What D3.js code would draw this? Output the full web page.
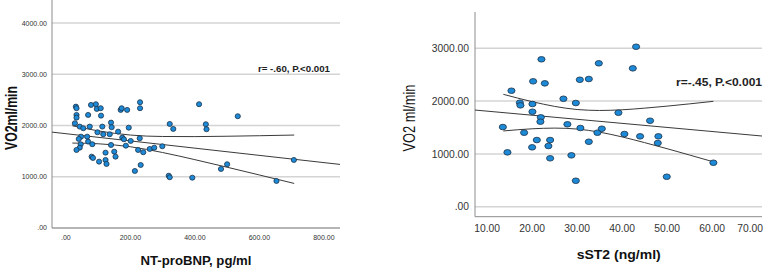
<!DOCTYPE html>
<html>
<head>
<meta charset="utf-8">
<script src="https://cdn.jsdelivr.net/npm/d3@7"></script>
<style>
html,body{margin:0;padding:0;background:#fff;}
svg{display:block;font-family:"Liberation Sans",Arial,sans-serif;}
</style>
</head>
<body>
<svg id="chart" width="764" height="268"></svg>
<script>
// ---------- Left panel data: NT-proBNP vs VO2 ----------
const ntX = [31,33,33,33,28,43,54,47,40,46,43,33,66,69,82,74,69,78,93,96,108,109,113,98,116,136,140,80,84,103,123,123,126,140,142,150,154,162,170,173,190,195,175,180,186,201,229,224,240,230,230,214,232,260,274,299,322,333,319,322,392,413,434,436,481,500,533,653,707];
const ntY = [2369,2338,2207,2154,2045,1979,1947,1783,1738,1635,1568,1523,1783,1686,1635,1979,2207,2402,2416,2324,2338,2193,1979,1869,1830,1830,1621,1393,1367,1295,1471,1328,1250,2057,1967,1490,1393,1881,2305,2338,2305,1959,1764,1732,1607,1699,1752,1523,1479,2455,2338,1113,1230,1543,1568,1596,2031,1934,1021,990,982,2416,2025,1928,1152,1244,2182,918,1328];
const ntFitX = [-43, 850];
const ntFitY = [1871, 1241];
const ntCiX = [20,100,200,300,400,500,600,708];
const ntCiUpper = [1996,1896,1814,1786,1784,1791,1801,1814];
const ntCiLower = [1658,1644,1586,1473,1334,1186,1035,870];
const ntXTicks = [0,200,400,600,800];
const ntXTickLabels = [".00","200.00","400.00","600.00","800.00"];
const ntYTicks = [0,1000,2000,3000,4000];
const ntYTickLabels = [".00","1000.00","2000.00","3000.00","4000.00"];
const ntXTitle = "NT-proBNP, pg/ml";
const ntYTitle = "VO2ml/min";
const ntNote = "r= -.60, P.<0.001";

// ---------- Right panel data: sST2 vs VO2 ----------
const stX = [22.07,34.82,20.22,22.82,30.6,32.6,15.4,17.27,17.4,20.07,20.07,21.93,21.84,26.96,29.71,39.18,13.49,18.22,27.84,30.73,34.51,35.49,32.6,21.04,24.0,20.0,23.62,14.51,24.0,28.73,29.71,43.11,42.38,46.22,40.51,44.0,48.07,47.93,60.29,49.93];
const stY = [2792,2716,2375,2337,2405,2419,2197,1970,1920,1945,1799,1693,1610,2045,1964,1780,1509,1402,1561,1491,1402,1477,1231,1263,1263,1125,1150,1030,917,973,492,3030,2621,1629,1377,1333,1333,1206,833,568];
const stFitX = [7.3, 71.1];
const stFitY = [1831, 1339];
const stCiX = [13.6,20,25,30,35,40,45,50,55,60.3];
const stCiUpper = [2129,1990,1900,1841,1823,1836,1867,1905,1948,1996];
const stCiLower = [1435,1476,1489,1471,1412,1322,1214,1099,979,850];
const stXTicks = [10,20,30,40,50,60,70];
const stXTickLabels = ["10.00","20.00","30.00","40.00","50.00","60.00","70.00"];
const stYTicks = [0,1000,2000,3000];
const stYTickLabels = [".00","1000.00","2000.00","3000.00"];
const stXTitle = "sST2 (ng/ml)";
const stYTitle = "VO2 ml/min";
const stNote = "r=-.45, P.<0.001";

const svg = d3.select("#chart");
const FILL = "#1d8ad8", STROKE = "#1b3148", GRID = "#d4d4d4", AXIS = "#8c8c8c", LINE = "#3a3a3a", TXT = "#333";

function panel(cfg) {
  const g = svg.append("g");
  const x = d3.scaleLinear().domain(cfg.xDomain).range(cfg.xRange);
  const y = d3.scaleLinear().domain(cfg.yDomain).range(cfg.yRange);
  const [x0, x1] = cfg.xRange;
  const [yb, yt] = cfg.yRange;

  // gridlines
  g.append("g").selectAll("line").data(cfg.yTicks).join("line")
    .attr("x1", x0).attr("x2", x1)
    .attr("y1", d => y(d)).attr("y2", d => y(d))
    .attr("stroke", GRID).attr("stroke-width", 1.5);

  // axes lines
  g.append("line").attr("x1", x0).attr("x2", x0).attr("y1", yt).attr("y2", yb)
    .attr("stroke", AXIS).attr("stroke-width", 1);
  g.append("line").attr("x1", x0).attr("x2", x1).attr("y1", yb).attr("y2", yb)
    .attr("stroke", AXIS).attr("stroke-width", 1);

  // y tick labels
  g.append("g").selectAll("text").data(cfg.yTicks).join("text")
    .attr("x", cfg.yLabelX).attr("y", d => y(d)).attr("dy", "0.35em")
    .attr("text-anchor", "end").attr("font-size", cfg.tickSize).attr("fill", TXT)
    .text((d, i) => cfg.yTickLabels[i]);

  // x tick labels
  const xl = g.append("g").selectAll("text").data(cfg.xTicks).join("text")
    .attr("x", d => x(d)).attr("y", cfg.xLabelY)
    .attr("text-anchor", "middle").attr("font-size", cfg.tickSize).attr("fill", TXT)
    .text((d, i) => cfg.xTickLabels[i]);
  xl.each(function() {
    const w = this.getComputedTextLength();
    const cx = +this.getAttribute("x");
    if (cx + w / 2 > 763) d3.select(this).attr("x", 763 - w / 2);
  });

  // fit line
  const line = d3.line().x(d => x(d[0])).y(d => y(d[1]));
  g.append("path").datum(d3.zip(cfg.fitX, cfg.fitY)).attr("d", line)
    .attr("fill", "none").attr("stroke", LINE).attr("stroke-width", 1);
  const curve = d3.line().x(d => x(d[0])).y(d => y(d[1])).curve(d3.curveMonotoneX);
  g.append("path").datum(d3.zip(cfg.ciX, cfg.ciUpper)).attr("d", curve)
    .attr("fill", "none").attr("stroke", LINE).attr("stroke-width", 1);
  g.append("path").datum(d3.zip(cfg.ciX, cfg.ciLower)).attr("d", curve)
    .attr("fill", "none").attr("stroke", LINE).attr("stroke-width", 1);

  // points
  g.append("g").selectAll("ellipse").data(d3.zip(cfg.px, cfg.py)).join("ellipse")
    .attr("cx", d => x(d[0])).attr("cy", d => y(d[1]))
    .attr("rx", cfg.rx).attr("ry", cfg.ry)
    .attr("fill", FILL).attr("stroke", STROKE).attr("stroke-width", 0.8);

  // annotation
  g.append("text").attr("x", cfg.noteX).attr("y", cfg.noteY)
    .attr("font-size", cfg.noteSize).attr("font-weight", "bold").attr("fill", "#222")
    .attr("textLength", cfg.noteLen).attr("lengthAdjust", "spacingAndGlyphs")
    .text(cfg.note);

  // x title
  g.append("text").attr("x", cfg.xTitleX).attr("y", cfg.xTitleY)
    .attr("text-anchor", "middle").attr("font-size", cfg.xTitleSize).attr("font-weight", "bold")
    .attr("fill", "#111").attr("textLength", cfg.xTitleLen).attr("lengthAdjust", "spacingAndGlyphs")
    .text(cfg.xTitle);

  // y title
  g.append("text").attr("transform", `translate(${cfg.yTitleX},${cfg.yTitleY}) rotate(-90)`)
    .attr("text-anchor", "middle").attr("font-size", cfg.yTitleSize).attr("font-weight", cfg.yTitleWeight)
    .attr("fill", "#111").attr("textLength", cfg.yTitleLen).attr("lengthAdjust", "spacingAndGlyphs")
    .text(cfg.yTitle);
}

panel({
  xDomain: [-43, 850], xRange: [52, 340],
  yDomain: [0, 4450], yRange: [228, 0],
  yTicks: ntYTicks, yTickLabels: ntYTickLabels, xTicks: ntXTicks, xTickLabels: ntXTickLabels,
  yLabelX: 47, xLabelY: 240, tickSize: 7,
  fitX: ntFitX, fitY: ntFitY, ciX: ntCiX, ciUpper: ntCiUpper, ciLower: ntCiLower,
  px: ntX, py: ntY, rx: 2.6, ry: 2.5,
  note: ntNote, noteX: 258, noteY: 71.5, noteSize: 9.5, noteLen: 72,
  xTitle: ntXTitle, xTitleX: 196, xTitleY: 264.5, xTitleSize: 13, xTitleLen: 111,
  yTitle: ntYTitle, yTitleX: 16.5, yTitleY: 118, yTitleSize: 17, yTitleWeight: "bold", yTitleLen: 64
});

panel({
  xDomain: [7.3, 71.1], xRange: [475, 762],
  yDomain: [-189, 3688], yRange: [216.7, 12],
  yTicks: stYTicks, yTickLabels: stYTickLabels, xTicks: stXTicks, xTickLabels: stXTickLabels,
  yLabelX: 469, xLabelY: 232, tickSize: 10.3,
  fitX: stFitX, fitY: stFitY, ciX: stCiX, ciUpper: stCiUpper, ciLower: stCiLower,
  px: stX, py: stY, rx: 3.6, ry: 2.8,
  note: stNote, noteX: 676, noteY: 85.5, noteSize: 10, noteLen: 86,
  xTitle: stXTitle, xTitleX: 618.7, xTitleY: 258.5, xTitleSize: 12.5, xTitleLen: 84,
  yTitle: stYTitle, yTitleX: 414.5, yTitleY: 118, yTitleSize: 17, yTitleWeight: "normal", yTitleLen: 67
});
</script>
</body>
</html>
